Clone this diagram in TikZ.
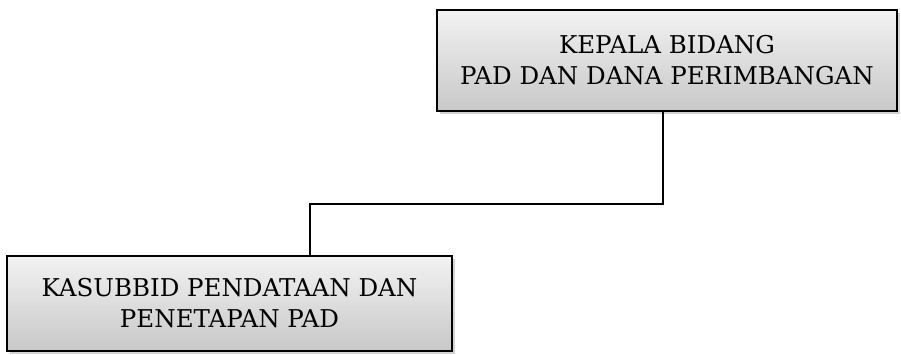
\documentclass[tikz,border=0pt]{standalone}
\usepackage{fontspec}
\setmainfont{DejaVu Serif}
\usepackage{xcolor}
\usetikzlibrary{positioning,shadows}
\definecolor{boxtop}{RGB}{242,242,242}
\definecolor{boxbot}{RGB}{200,200,200}

\begin{document}
\begin{tikzpicture}[x=1pt,y=1pt,font=\fontsize{24.5}{31}\selectfont]
  \tikzset{orgbox/.style={draw,line width=1.4pt,top color=boxtop,bottom color=boxbot,
      align=center,inner sep=0pt,
      drop shadow={opacity=0.35,shadow xshift=3pt,shadow yshift=-3pt}},
    link/.style={draw,line width=1.4pt}}
  \useasboundingbox (0,0) rectangle (901,-354);
  % ---------------- kepala bidang
  \node[orgbox,minimum width=460,minimum height=101] (kabid) at (667,-60.5)
    {KEPALA BIDANG\\PAD DAN DANA PERIMBANGAN};
  % ---------------- kasubbid
  \node[orgbox,minimum width=445,minimum height=95] (kasub) at (229.5,-303.5)
    {KASUBBID PENDATAAN DAN\\PENETAPAN PAD};
  % ---------------- connector
  \coordinate (bend) at (310,-204);
  \draw[link] ([xshift=-4pt]kabid.south) |- (bend) -- (bend |- kasub.north);
\end{tikzpicture}
\end{document}
